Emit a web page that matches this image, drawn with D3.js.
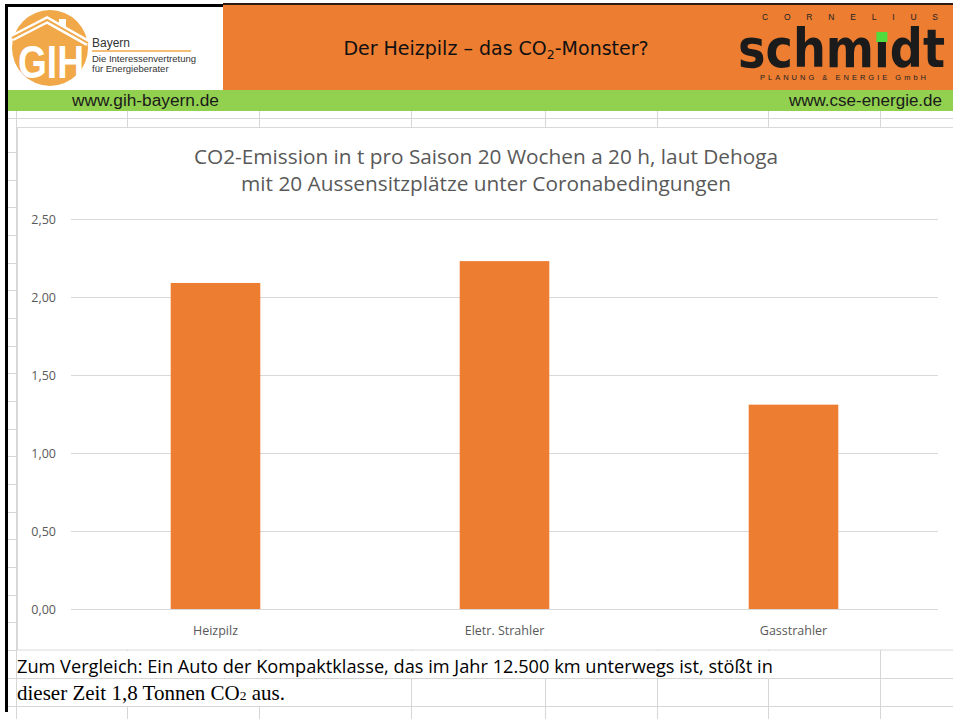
<!DOCTYPE html>
<meta charset="utf-8">
<style>
    body { margin: 0; background: #fff; }
    .grid line { stroke: #d9d9d9; stroke-width: 1px; }
    .grid .domain { display: none; }
    .grid text, .xaxis text { fill: #595959; font-family: "Open Sans", Lato, sans-serif; font-size: 12.5px; }
    .sheet line { stroke: #d6d6d6; stroke-width: 1px; shape-rendering: crispEdges; }
</style>
<svg width="953" height="719"></svg>
<script src="https://cdn.jsdelivr.net/npm/d3@7"></script>
<script>
    // Daten
    var categories = ['Heizpilz', 'Eletr. Strahler', 'Gasstrahler'];
    var emissions = [2.09, 2.23, 1.31];
    var yTicks = [0, 0.5, 1, 1.5, 2, 2.5];
    var titleLines = [
        'CO2-Emission in t pro Saison 20 Wochen a 20 h, laut Dehoga',
        'mit 20 Aussensitzplätze unter Coronabedingungen'
    ];

    var svg = d3.select('svg');
    var W = 953, H = 719;
    var plot = { left: 71, right: 938, top: 219, bottom: 609 };
    var orange = '#ed7d31';

    var de = d3.formatLocale({ decimal: ',', thousands: '.', grouping: [3], currency: ['', ' €'] });
    var fmt = de.format('.2f');

    // Tabellen-Gitter im Hintergrund
    var sheet = svg.append('g').attr('class', 'sheet');
    var cols = [16, 127, 259, 411, 545, 657, 768, 880];
    sheet.append('line').attr('x1', 8).attr('x2', W).attr('y1', 118.5).attr('y2', 118.5);
    cols.forEach(function (c) {
        sheet.append('line').attr('x1', c + 0.5).attr('x2', c + 0.5).attr('y1', 110).attr('y2', H);
    });
    d3.range(0, 19).forEach(function (k) {
        var yy = Math.round(152 + k * 27.67) + 0.5;
        sheet.append('line').attr('x1', 8).attr('x2', 17).attr('y1', yy).attr('y2', yy);
    });
    [678.5, 706.5].forEach(function (yy) {
        sheet.append('line').attr('x1', 8).attr('x2', W).attr('y1', yy).attr('y2', yy);
    });

    // Textzeilen unten (decken Gitter ab, wie in Excel)
    svg.append('rect').attr('x', 17).attr('y', 651).attr('width', 862).attr('height', 27).attr('fill', '#fff');
    svg.append('rect').attr('x', 17).attr('y', 679).attr('width', 393).attr('height', 27).attr('fill', '#fff');

    // Diagrammbereich
    svg.append('rect')
        .attr('x', 17.5).attr('y', 127.5)
        .attr('width', W).attr('height', 650 - 127.5)
        .attr('fill', '#fff').attr('stroke', '#d9d9d9');

    var x = d3.scaleBand()
        .domain(categories)
        .range([plot.left, plot.right])
        .paddingInner(0.69)
        .paddingOuter(0.345);
    var y = d3.scaleLinear().domain([0, 2.5]).range([plot.bottom, plot.top]);

    svg.append('g')
        .attr('class', 'grid')
        .attr('transform', 'translate(' + plot.left + ',0)')
        .call(d3.axisLeft(y)
            .tickValues(yTicks)
            .tickSize(-(plot.right - plot.left))
            .tickPadding(15)
            .tickFormat(fmt));

    svg.append('g')
        .selectAll('rect')
        .data(emissions)
        .enter()
        .append('rect')
        .attr('x', function (d, i) { return x(categories[i]); })
        .attr('y', function (d) { return y(d); })
        .attr('width', x.bandwidth())
        .attr('height', function (d) { return y(0) - y(d); })
        .attr('fill', orange);

    svg.append('g')
        .attr('class', 'xaxis')
        .attr('transform', 'translate(0,' + plot.bottom + ')')
        .call(d3.axisBottom(x).tickSize(0).tickPadding(17))
        .select('.domain').remove();
    svg.append('line')
        .attr('x1', plot.left).attr('x2', plot.right)
        .attr('y1', y(0) + 0.5).attr('y2', y(0) + 0.5)
        .attr('stroke', '#d9d9d9');

    svg.append('g')
        .selectAll('text')
        .data(titleLines)
        .enter()
        .append('text')
        .attr('x', 486)
        .attr('y', function (d, i) { return 164 + i * 27; })
        .attr('text-anchor', 'middle')
        .attr('fill', '#595959')
        .style('font-family', '"Open Sans", Lato, sans-serif')
        .style('font-size', '20.8px')
        .text(function (d) { return d; });

    // Kopfzeile
    svg.append('rect').attr('x', 223).attr('y', 5).attr('width', W - 223).attr('height', 85).attr('fill', orange);
    svg.append('rect').attr('x', 8).attr('y', 90).attr('width', W - 8).attr('height', 21).attr('fill', '#92d050');
    svg.append('rect').attr('x', 5).attr('y', 4).attr('width', 218).attr('height', 3).attr('fill', '#000');
    svg.append('rect').attr('x', 223).attr('y', 3).attr('width', W - 223).attr('height', 2).attr('fill', '#2a1a10');
    svg.append('rect').attr('x', 5).attr('y', 4).attr('width', 3).attr('height', 708).attr('fill', '#000');

    var head = svg.append('text')
        .attr('x', 496).attr('y', 55)
        .attr('text-anchor', 'middle')
        .attr('fill', '#111')
        .style('font-family', '"DejaVu Sans", sans-serif')
        .style('font-size', '19px');
    head.append('tspan').text('Der Heizpilz – das CO');
    head.append('tspan').attr('baseline-shift', '-30%').style('font-size', '12.5px').text('2');
    head.append('tspan').text('-Monster?');

    svg.append('text')
        .attr('x', 72).attr('y', 106)
        .attr('fill', '#1a1a1a')
        .style('font-family', '"Liberation Sans", Arial, sans-serif')
        .style('font-size', '17.3px')
        .text('www.gih-bayern.de');
    svg.append('text')
        .attr('x', 942).attr('y', 106)
        .attr('text-anchor', 'end')
        .attr('fill', '#1a1a1a')
        .style('font-family', '"Liberation Sans", Arial, sans-serif')
        .style('font-size', '17px')
        .text('www.cse-energie.de');

    // GIH Logo
    var gih = svg.append('g');
    gih.append('circle').attr('cx', 50).attr('cy', 48).attr('r', 38).attr('fill', '#f0a848');
    var roof = [[12, 38], [47, 20], [88, 43]];
    gih.append('rect').attr('x', 59).attr('y', 19).attr('width', 7).attr('height', 9).attr('fill', '#fff');
    gih.append('path').attr('d', d3.line()(roof)).attr('fill', 'none').attr('stroke', '#fff').attr('stroke-width', 7);
    gih.append('path').attr('d', d3.line()(roof)).attr('fill', 'none').attr('stroke', '#f0a848').attr('stroke-width', 2);
    gih.append('g')
        .attr('transform', 'translate(18,78) scale(1,1.25)')
        .append('text')
        .attr('textLength', 66).attr('lengthAdjust', 'spacingAndGlyphs')
        .attr('fill', '#fff')
        .style('font-family', '"Liberation Sans", Arial, sans-serif')
        .style('font-weight', 'bold')
        .style('font-size', '37px')
        .text('GIH');
    gih.append('text').attr('x', 92).attr('y', 47).attr('fill', '#333')
        .style('font-family', '"Liberation Sans", Arial, sans-serif').style('font-size', '12px').text('Bayern');
    gih.append('line').attr('x1', 92).attr('x2', 191).attr('y1', 51).attr('y2', 51)
        .attr('stroke', '#f0a848').attr('stroke-width', 1.5);
    gih.append('text').attr('x', 92).attr('y', 62).attr('fill', '#333')
        .style('font-family', '"Liberation Sans", Arial, sans-serif').style('font-size', '9.5px').text('Die Interessenvertretung');
    gih.append('text').attr('x', 92).attr('y', 72).attr('fill', '#333')
        .style('font-family', '"Liberation Sans", Arial, sans-serif').style('font-size', '9.5px').text('für Energieberater');

    // Schmidt Logo
    var cse = svg.append('g');
    cse.append('text').attr('x', 762).attr('y', 20)
        .attr('textLength', 176).attr('lengthAdjust', 'spacing')
        .attr('fill', '#222')
        .style('font-family', '"Liberation Sans", Arial, sans-serif').style('font-size', '8.5px')
        .text('CORNELIUS');
    var wordG = cse.append('g').attr('transform', 'translate(738,67) scale(1,1.22)');
    var word = wordG.append('text')
        .attr('textLength', 207).attr('lengthAdjust', 'spacingAndGlyphs')
        .attr('fill', '#1b1b1b')
        .style('font-family', '"DejaVu Sans", sans-serif').style('font-weight', 'bold').style('font-size', '44px')
        .text('schmıdt');
    var ext = word.node().getExtentOfChar(4);
    cse.append('rect')
        .attr('x', 738 + ext.x + ext.width / 2 - 5.5).attr('y', 32)
        .attr('width', 11).attr('height', 10)
        .attr('fill', '#4fdc3c');
    cse.append('text').attr('x', 760).attr('y', 80)
        .attr('textLength', 166).attr('lengthAdjust', 'spacing')
        .attr('fill', '#222')
        .style('font-family', '"Liberation Sans", Arial, sans-serif').style('font-size', '7.5px')
        .text('PLANUNG & ENERGIE GmbH');

    // Vergleichstext
    svg.append('text')
        .attr('x', 17).attr('y', 673)
        .attr('fill', '#000')
        .style('font-family', '"Open Sans", Lato, sans-serif')
        .style('font-size', '18.2px')
        .text('Zum Vergleich: Ein Auto der Kompaktklasse, das im Jahr 12.500 km unterwegs ist, stößt in');
    var t2 = svg.append('text')
        .attr('x', 17).attr('y', 700)
        .attr('fill', '#000')
        .style('font-family', '"Liberation Serif", "Times New Roman", serif')
        .style('font-size', '21px');
    t2.append('tspan').text('dieser Zeit 1,8 Tonnen CO');
    t2.append('tspan').style('font-size', '13.5px').text('2');
    t2.append('tspan').text(' aus.');
</script>
